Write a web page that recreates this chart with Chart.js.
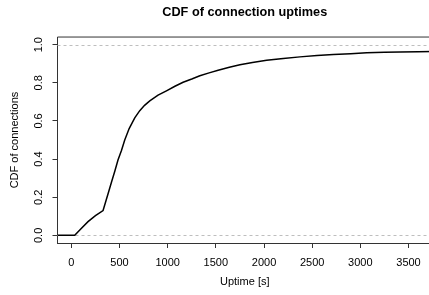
<!DOCTYPE html>
<html>
<head>
<meta charset="utf-8">
<script src="https://cdn.jsdelivr.net/npm/chart.js@4"></script>
<style>
html,body{margin:0;padding:0;background:#fff;overflow:hidden;}
canvas{display:block;}
</style>
</head>
<body>
<canvas id="c" width="432" height="295"></canvas>
<script>
// Data
const uptimes = [-144, 35, 100, 173, 250, 329, 360, 381, 420, 450, 484, 520, 554, 600, 658, 710, 760, 814, 900, 987, 1075, 1160, 1250, 1334, 1430, 1524, 1640, 1750, 1880, 2027, 2200, 2373, 2550, 2720, 2900, 3066, 3250, 3413, 3600, 3744];
const cdfValues = [0, 0, 0.035, 0.072, 0.103, 0.130, 0.183, 0.218, 0.285, 0.335, 0.395, 0.445, 0.500, 0.560, 0.616, 0.654, 0.682, 0.705, 0.735, 0.758, 0.782, 0.803, 0.820, 0.837, 0.852, 0.866, 0.882, 0.895, 0.907, 0.918, 0.928, 0.936, 0.943, 0.949, 0.953, 0.957, 0.960, 0.962, 0.963, 0.964];
const xTicks = [0, 500, 1000, 1500, 2000, 2500, 3000, 3500];
const yTicks = [0, 0.2, 0.4, 0.6, 0.8, 1.0];
const refLines = [0, 1];
const xRange = [-144, 3744];
const yRange = [-0.04, 1.04];

const FONT = '"Liberation Sans", Arial, Helvetica, sans-serif';
const AXIS = '#333';

const frame = {
  id: 'frame',
  beforeDatasetsDraw(chart) {
    const {ctx, chartArea: a, scales: {y}} = chart;
    ctx.save();
    ctx.strokeStyle = '#bebebe';
    ctx.lineWidth = 1;
    ctx.setLineDash([3, 3]);
    refLines.forEach(v => {
      const py = Math.round(y.getPixelForValue(v)) + 0.5;
      ctx.beginPath();
      ctx.moveTo(a.left, py);
      ctx.lineTo(a.right, py);
      ctx.stroke();
    });
    ctx.restore();
  },
  afterDraw(chart) {
    const {ctx, chartArea: a} = chart;
    ctx.save();
    ctx.strokeStyle = AXIS;
    ctx.lineWidth = 1;
    ctx.beginPath();
    ctx.moveTo(a.left, a.top);
    ctx.lineTo(a.right + 2, a.top);
    ctx.stroke();
    ctx.restore();
  }
};

new Chart(document.getElementById('c'), {
  type: 'line',
  data: {
    datasets: [{
      data: uptimes.map((x, i) => ({x: x, y: cdfValues[i]})),
      borderColor: '#000',
      borderWidth: 1.5,
      pointRadius: 0,
      tension: 0,
      fill: false
    }]
  },
  options: {
    responsive: false,
    animation: false,
    devicePixelRatio: 1,
    layout: {padding: 0},
    plugins: {
      legend: {display: false},
      tooltip: {enabled: false},
      title: {
        display: true,
        fullSize: false,
        text: 'CDF of connection uptimes',
        color: '#000',
        font: {family: FONT, size: 12.7, weight: 'bold', lineHeight: 1.2},
        padding: {top: 4.9, bottom: 16.9}
      }
    },
    scales: {
      x: {
        type: 'linear',
        min: xRange[0],
        max: xRange[1],
        afterBuildTicks: s => { s.ticks = xTicks.map(v => ({value: v})); },
        afterFit: s => { s.height = 52; },
        ticks: {
          autoSkip: false,
          maxRotation: 0,
          minRotation: 0,
          padding: 8.4,
          color: '#000',
          font: {family: FONT, size: 11, lineHeight: 1.2},
          callback: v => String(v)
        },
        grid: {display: true, drawOnChartArea: false, drawTicks: true, tickLength: 5, color: AXIS, lineWidth: 1},
        border: {display: true, color: AXIS, width: 1},
        title: {
          display: true,
          text: 'Uptime [s]',
          color: '#000',
          font: {family: FONT, size: 11, lineHeight: 1.2},
          padding: {top: 0, bottom: 6.7}
        }
      },
      y: {
        type: 'linear',
        min: yRange[0],
        max: yRange[1],
        afterBuildTicks: s => { s.ticks = yTicks.map(v => ({value: v})); },
        afterFit: s => { s.width = 57.5; },
        ticks: {
          autoSkip: false,
          minRotation: 90,
          maxRotation: 90,
          crossAlign: 'center',
          padding: 5.6,
          color: '#000',
          font: {family: FONT, size: 11, lineHeight: 1.2},
          callback: v => v.toFixed(1)
        },
        grid: {display: true, drawOnChartArea: false, drawTicks: true, tickLength: 5, color: AXIS, lineWidth: 1},
        border: {display: true, color: AXIS, width: 1},
        title: {
          display: true,
          text: 'CDF of connections',
          color: '#000',
          font: {family: FONT, size: 11, lineHeight: 1.2},
          padding: {top: 8.4, bottom: 0}
        }
      }
    }
  },
  plugins: [frame]
});
</script>
</body>
</html>
